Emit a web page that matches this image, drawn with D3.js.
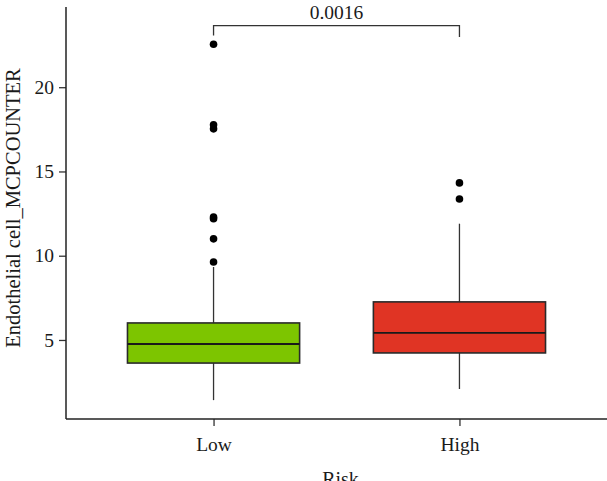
<!DOCTYPE html>
<html><head><meta charset="utf-8">
<script src="https://cdn.jsdelivr.net/npm/d3@7/dist/d3.min.js"></script>
<style>body{margin:0;background:#fff}svg{display:block}</style>
</head><body>
<svg id="c" width="607" height="481"></svg>
<script>
const categories = ["Low", "High"];
const q1 = [3.63, 4.23];
const medians = [4.76, 5.42];
const q3 = [6.01, 7.26];
const whiskerLow = [1.43, 2.09];
const whiskerHigh = [9.33, 11.9];
const outliers = [[22.55, 17.77, 17.53, 12.3, 12.2, 11.0, 9.63], [14.32, 13.37]];
const fills = ["#7DC500", "#E03424"];
const yTicks = [5, 10, 15, 20];
const pLabel = "0.0016";

const svg = d3.select("#c");
const font = "Liberation Serif, Times New Roman, serif";
const mLeft = 66, mRight = 607, mTop = 7, mBottom = 419;

const x = d3.scaleLinear().domain([0.4, 2.6]).range([mLeft, mRight]);
const y = d3.scaleLinear().domain([0.31, 24.76]).range([mBottom, mTop]);
const bw = 0.7;

// axes
const yAxis = d3.axisLeft(y).tickValues(yTicks).tickSize(7).tickPadding(5);
const gy = svg.append("g").attr("transform", `translate(${mLeft},0)`).call(yAxis);
const xAxis = d3.axisBottom(x).tickValues([1, 2]).tickFormat((d, i) => categories[i]).tickSize(7).tickPadding(11);
const gx = svg.append("g").attr("transform", `translate(0,${mBottom})`).call(xAxis);
[gy, gx].forEach(g => {
  g.select(".domain").remove();
  g.selectAll("line").attr("stroke", "#333").attr("stroke-width", 1.3);
  g.selectAll("text").attr("fill", "#1a1a1a").style("font-family", font).style("font-size", "19.5px");
});
svg.append("line").attr("x1", mLeft).attr("x2", mLeft).attr("y1", mTop).attr("y2", mBottom)
  .attr("stroke", "#222").attr("stroke-width", 1.5);
svg.append("line").attr("x1", mLeft).attr("x2", mRight).attr("y1", mBottom).attr("y2", mBottom)
  .attr("stroke", "#222").attr("stroke-width", 1.5);

// boxes
categories.forEach((c, i) => {
  const cx = x(i + 1);
  const g = svg.append("g");
  g.append("line").attr("x1", cx).attr("x2", cx).attr("y1", y(whiskerLow[i])).attr("y2", y(q1[i]))
    .attr("stroke", "#333").attr("stroke-width", 1.3);
  g.append("line").attr("x1", cx).attr("x2", cx).attr("y1", y(q3[i])).attr("y2", y(whiskerHigh[i]))
    .attr("stroke", "#333").attr("stroke-width", 1.3);
  g.append("rect").attr("x", x(i + 1 - bw / 2)).attr("width", x(i + 1 + bw / 2) - x(i + 1 - bw / 2))
    .attr("y", y(q3[i])).attr("height", y(q1[i]) - y(q3[i]))
    .attr("fill", fills[i]).attr("stroke", "#2a2a2a").attr("stroke-width", 1.6);
  g.append("line").attr("x1", x(i + 1 - bw / 2)).attr("x2", x(i + 1 + bw / 2))
    .attr("y1", y(medians[i])).attr("y2", y(medians[i]))
    .attr("stroke", "#1a1a1a").attr("stroke-width", 1.8);
  g.selectAll("circle").data(outliers[i]).enter().append("circle")
    .attr("cx", cx).attr("cy", d => y(d)).attr("r", 3.8).attr("fill", "#000");
});

// significance bracket
const by = 25.7, bl = 35.5;
svg.append("path")
  .attr("d", `M${x(1)},${bl}V${by}H${x(2)}V${bl + 1.5}`)
  .attr("fill", "none").attr("stroke", "#333").attr("stroke-width", 1.3);
svg.append("text").attr("x", (x(1) + x(2)) / 2).attr("y", 19)
  .attr("text-anchor", "middle").style("font-family", font).style("font-size", "19.5px")
  .attr("fill", "#1a1a1a").text(pLabel);

// axis titles
svg.append("text").attr("x", (mLeft + mRight) / 2 + 4).attr("y", 486)
  .attr("text-anchor", "middle").style("font-family", font).style("font-size", "20px")
  .attr("fill", "#1a1a1a").text("Risk");
svg.append("text").attr("transform", `translate(20,208) rotate(-90)`)
  .attr("text-anchor", "middle").style("font-family", font).style("font-size", "20.5px")
  .attr("fill", "#1a1a1a").text("Endothelial cell_MCPCOUNTER");
</script>
</body></html>
